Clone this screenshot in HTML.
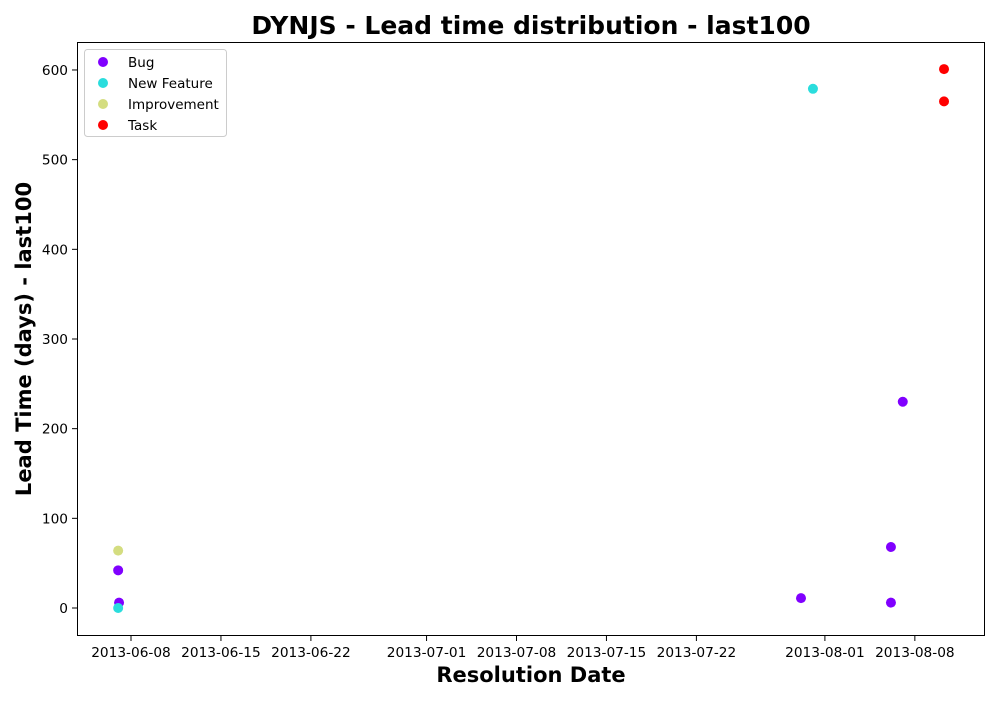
<!DOCTYPE html>
<html><head><meta charset="utf-8"><style>
body{margin:0;background:#fff;font-family:"Liberation Sans","DejaVu Sans",sans-serif}
</style></head><body>
<svg id="chart" width="1000" height="700" xmlns="http://www.w3.org/2000/svg">
<rect width="1000" height="700" fill="#fff"/>
<text x="531" y="34" text-anchor="middle" font-size="25" font-weight="bold" font-family="DejaVu Sans, sans-serif">DYNJS - Lead time distribution - last100</text>
<g id="marks"></g>
<rect x="77.5" y="42.5" width="907" height="593" fill="none" stroke="#000" stroke-width="1"/>
<g id="xticks" font-size="13.7" font-family="DejaVu Sans, sans-serif"></g>
<g id="yticks" font-size="13.7" font-family="DejaVu Sans, sans-serif"></g>
<text x="531" y="682" text-anchor="middle" font-size="21" font-weight="bold" font-family="DejaVu Sans, sans-serif">Resolution Date</text>
<text transform="translate(31,339) rotate(-90)" text-anchor="middle" font-size="21" font-weight="bold" font-family="DejaVu Sans, sans-serif">Lead Time (days) - last100</text>
<g>
<rect x="84.5" y="49.5" width="142" height="87" fill="#fff" stroke="#ccc" rx="3"/>
<g id="legend-items" font-size="13.5" font-family="DejaVu Sans, sans-serif"></g>
</g>
</svg>
<script>
// days relative to 2013-06-08
const xTickLabels=["2013-06-08","2013-06-15","2013-06-22","2013-07-01","2013-07-08","2013-07-15","2013-07-22","2013-08-01","2013-08-08"];
const xTickDays=[0,7,14,23,30,37,44,54,61];
const yTicks=[0,100,200,300,400,500,600];
const seriesNames=["Bug","New Feature","Improvement","Task"];
const seriesColors=["#8000ff","#2adddd","#d4dd80","#ff0000"];
const bugX=[-1.0,-0.93,52.14,59.14,59.14,60.06];
const bugY=[42,6,11,68,6,230];
const nfX=[-1.0,53.07];
const nfY=[0,579];
const impX=[-1.0];
const impY=[64];
const taskX=[63.27,63.27];
const taskY=[601,565];
const X=d=>131+d*12.85;
const Y=v=>608-v*0.8967;
const ns="http://www.w3.org/2000/svg";
function mk(t,a){const e=document.createElementNS(ns,t);for(const k in a)e.setAttribute(k,a[k]);return e;}
const marks=document.getElementById('marks');
const all=[[bugX,bugY],[nfX,nfY],[impX,impY],[taskX,taskY]];
all.forEach((s,i)=>{s[0].forEach((d,j)=>{const c=mk('circle',{cx:X(d),cy:Y(s[1][j]),r:5,fill:seriesColors[i]});


marks.appendChild(c);});});
const xt=document.getElementById('xticks');
xTickDays.forEach((d,i)=>{const x=X(d);
const l=mk('line',{x1:x,x2:x,y1:636,y2:641,stroke:'#000'});


xt.appendChild(l);
const t=mk('text',{x:x,y:657,'text-anchor':'middle'});t.textContent=xTickLabels[i];


xt.appendChild(t);});
const yt=document.getElementById('yticks');
yTicks.forEach(v=>{const y=Y(v);
const l=mk('line',{x1:72,x2:77,y1:y,y2:y,stroke:'#000'});


yt.appendChild(l);
const t=mk('text',{x:68,y:y+5,'text-anchor':'end'});t.textContent=v;


yt.appendChild(t);});
const lg=document.getElementById('legend-items');
seriesNames.forEach((n,i)=>{const y=62+i*21;
const c=mk('circle',{cx:103,cy:y,r:5,fill:seriesColors[i]});


lg.appendChild(c);
const t=mk('text',{x:128,y:y+5});t.textContent=n;


lg.appendChild(t);});
</script>
</body></html>
